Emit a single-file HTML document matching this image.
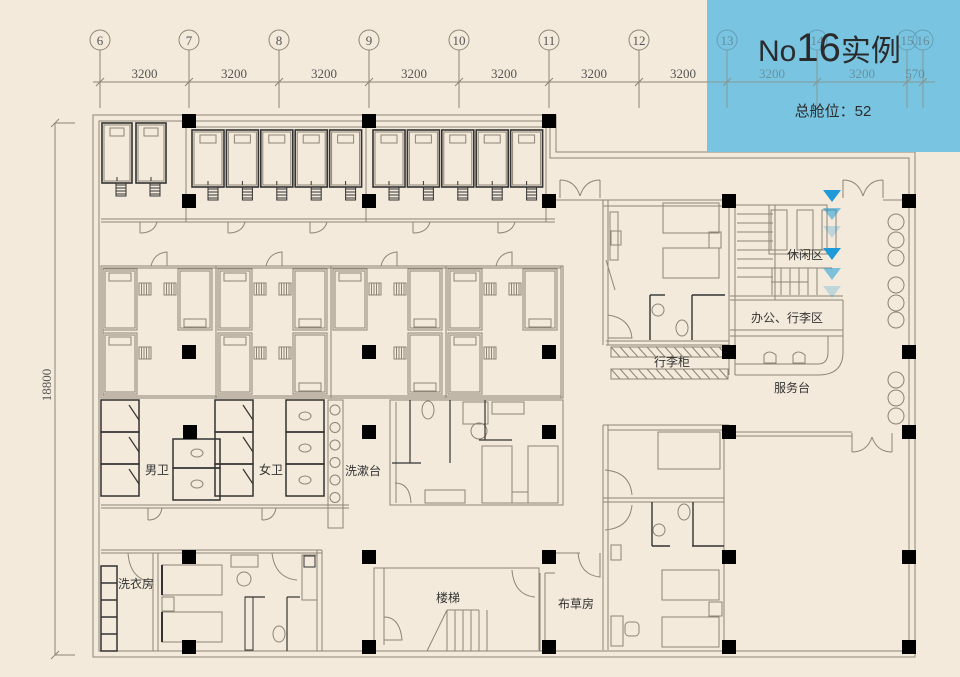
<!DOCTYPE html>
<html><head><meta charset="utf-8"><style>
html,body{margin:0;padding:0;background:#f3eadb;}
svg{display:block;}
.t{font-family:"Liberation Sans","Noto Sans CJK SC",sans-serif;font-size:12px;fill:#333;}
.d{font-family:"Liberation Serif",serif;font-size:13px;fill:#555;}
</style></head><body>
<svg id="s" width="960" height="677" viewBox="0 0 960 677" xmlns="http://www.w3.org/2000/svg">
<rect width="960" height="677" fill="#f3eadb"/>
<g id="g" fill="none" stroke="#8c8474" stroke-width="1"></g>
<rect x="707" y="0" width="253" height="152" fill="#79c4e1"/>
<g id="g2" fill="none" stroke="#5a8fa5" stroke-width="1" opacity="0.7"></g>
<text x="758" y="61" style="font-family:'Liberation Sans','Noto Sans CJK SC',sans-serif;font-size:30px;fill:#2b2b2b">No<tspan style="font-size:40px">16</tspan><tspan style="font-family:'Noto Sans CJK SC',sans-serif;font-size:30px">实例</tspan></text>
<text x="833" y="116" text-anchor="middle" style="font-family:'Liberation Sans','Noto Sans CJK SC',sans-serif;font-size:15px;fill:#2b2b2b">总舱位：52</text>
<text x="157" y="474" text-anchor="middle" class="t">男卫</text>
<text x="271" y="474" text-anchor="middle" class="t">女卫</text>
<text x="363" y="475" text-anchor="middle" class="t">洗漱台</text>
<text x="136" y="588" text-anchor="middle" class="t">洗衣房</text>
<text x="448" y="602" text-anchor="middle" class="t">楼梯</text>
<text x="576" y="608" text-anchor="middle" class="t">布草房</text>
<text x="672" y="366" text-anchor="middle" class="t">行李柜</text>
<text x="792" y="392" text-anchor="middle" class="t">服务台</text>
<text x="787" y="322" text-anchor="middle" class="t">办公、行李区</text>
<text x="805" y="259" text-anchor="middle" class="t">休闲区</text>
<text x="51" y="385" class="d" transform="rotate(-90 51 385)" text-anchor="middle">18800</text>
</svg>
<script>
var NS="http://www.w3.org/2000/svg",g=document.getElementById('g'),s=document.getElementById('s'),g2=document.getElementById('g2');
function el(p,n,a){var e=document.createElementNS(NS,n);for(var k in a)e.setAttribute(k,a[k]);p.appendChild(e);return e;}
function L(x1,y1,x2,y2,c,w,p){el(p||g,'line',{x1:x1,y1:y1,x2:x2,y2:y2,stroke:c||'#8c8474','stroke-width':w||1});}
function R(x,y,w,h,c,sw,f,p){el(p||g,'rect',{x:x,y:y,width:w,height:h,stroke:c||'#8c8474','stroke-width':sw||1,fill:f||'none'});}
function C(x,y){el(s,'rect',{x:x-7,y:y-7,width:14,height:14,fill:'#000'});}
var gx=[100,189,279,369,459,549,639,727,817,907,923],lab=['6','7','8','9','10','11','12','13','14','15','16'];
for(var i=0;i<gx.length;i++){var p=gx[i]>700?g2:g;el(p,'circle',{cx:gx[i],cy:40,r:10});L(gx[i],50,gx[i],108,null,1,p);
 var t=el(s,'text',{x:gx[i],y:45,'text-anchor':'middle','class':'d'});t.textContent=lab[i];if(gx[i]>700)t.setAttribute('opacity','0.5');
 L(gx[i]-4,86,gx[i]+4,78,null,1,p);}
L(93,82,707,82);L(707,82,935,82,null,1,g2);
for(i=0;i<9;i++){var tx=el(s,'text',{x:(gx[i]+gx[i+1])/2,y:78,'text-anchor':'middle','class':'d'});tx.textContent='3200';if(i>=7)tx.setAttribute('opacity','0.45');}
var t5=el(s,'text',{x:915,y:78,'text-anchor':'middle','class':'d',opacity:0.45});t5.textContent='570';
L(55,123,55,655);L(51,127,59,119);L(51,659,59,651);L(55,123,75,123);L(55,655,75,655);
el(g,'path',{d:'M93 115 H556 V152 H915 V657 H93 Z'});
el(g,'path',{d:'M99 121 H550 V158 H909 V651 H99 Z'});
function cap(x,y,w,h){R(x,y,w,h,'#333',1.6);R(x+2,y+2,w-4,h-4);R(x+8,y+5,w-16,8);L(x+w/2,y+h-6,x+w/2,y+h-2,'#333');
 for(var k=0;k<4;k++)L(x+w-16,y+h+2+k*3,x+w-6,y+h+2+k*3,'#333');R(x+w-16,y+h,10,13,'#333');}
cap(102,123,30,60);cap(136,123,30,60);
for(i=0;i<5;i++)cap(192+i*34.4,130,32,57);
for(i=0;i<5;i++)cap(373+i*34.4,130,32,57);
L(185,127,555,127);L(186,121,186,222);L(366,121,366,222);L(546,121,546,222);
L(101,219,555,219);L(101,222,555,222);
for(i=0;i<5;i++){var dx=[140,228,310,413,498][i];L(dx,222,dx,233);el(g,'path',{d:'M'+dx+' 233 Q'+(dx+14)+' 233 '+(dx+17)+' 222'});}
R(101,266,462,132);R(103,268,458,128);
var units=[101,216,331,446],cfg=[[1,1,1,0],[1,1,1,1],[1,0,1,1],[1,1,1,0]];
for(i=0;i<4;i++){var ux=units[i];L(ux+115,266,ux+115,398);
 var ps=[[ux+2,269,0],[ux+2,333,0],[ux+77,269,1],[ux+77,333,1]];
 for(var j=0;j<4;j++)if(cfg[i][j]){var q=ps[j];R(q[0],q[1],34,61);R(q[0]+2,q[1]+2,30,57);R(q[0]+6,q[2]?q[1]+50:q[1]+4,22,8);
  for(var k=0;k<5;k++)L(q[2]?q[0]-14+k*2.5:q[0]+36+k*2.5,q[1]+14,q[2]?q[0]-14+k*2.5:q[0]+36+k*2.5,q[1]+26);R(q[2]?q[0]-14:q[0]+36,q[1]+14,12,12);}
 el(g,'path',{d:'M'+(ux+50)+' 266 Q'+(ux+53)+' 253 '+(ux+66)+' 252 V266'});}
for(i=0;i<3;i++){R(101,400+i*32,38,32,'#333',1.5);R(215,400+i*32,38,32,'#333',1.5);R(286,400+i*32,38,32,'#333',1.5);
 el(g,'ellipse',{cx:305,cy:416+i*32,rx:6,ry:4});L(129,405+i*32,139,420+i*32,'#333',1.2);L(243,405+i*32,253,420+i*32,'#333',1.2);}
R(173,439,47,29,'#333',1.5);R(173,468,47,32,'#333',1.5);el(g,'ellipse',{cx:197,cy:453,rx:6,ry:4});el(g,'ellipse',{cx:197,cy:484,rx:6,ry:4});
R(328,400,15,128);for(i=0;i<6;i++)el(g,'circle',{cx:335,cy:410+i*17.5,r:5});
L(101,505,349,505);L(101,508,349,508);
L(148,508,148,520);el(g,'path',{d:'M148 520 Q160 520 162 508'});L(262,508,262,520);el(g,'path',{d:'M262 520 Q274 520 276 508'});
R(390,400,173,105);L(396,402,396,503);L(392,463,421,463,'#333',1.2);L(450,400,450,463,'#333',1.2);L(410,400,410,463,'#333',1.2);
el(g,'ellipse',{cx:428,cy:410,rx:6,ry:9});R(463,402,25,22);R(492,402,32,12);el(g,'circle',{cx:479,cy:431,r:8});
L(479,440,512,440,'#333',1.2);L(485,400,485,440,'#333',1.2);
R(482,446,30,57);R(528,446,30,57);R(425,490,40,13);R(512,492,16,11);
el(g,'path',{d:'M395 483 Q410 483 411 503'});
L(101,550,322,550);L(101,553,322,553);R(101,566,16,85,'#333',1.5);for(i=1;i<5;i++)L(101,566+i*17,117,566+i*17,'#333',1.5);
L(153,553,153,651);L(158,553,158,651);el(g,'path',{d:'M128 553 Q130 580 153 582'});
R(162,565,60,30);R(162,612,60,30);L(162,565,162,595,'#333',2);L(162,612,162,642,'#333',2);R(162,597,12,14);
R(231,555,27,12);el(g,'circle',{cx:244,cy:579,r:7});R(245,597,8,53,'#333',1);L(245,597,265,597,'#333',1.2);L(287,597,287,651,'#333',1.2);L(287,597,300,597,'#333',1.2);
el(g,'ellipse',{cx:279,cy:634,rx:6,ry:8});R(302,555,15,45);R(304,556,11,11,'#333',1);L(317,550,317,651);L(322,550,322,651);
el(g,'path',{d:'M272 553 Q275 578 297 580'});
R(374,568,165,83);L(384,568,384,645);L(384,568,510,568);
el(g,'path',{d:'M384 617 Q400 617 402 640 H384'});
for(i=0;i<6;i++)L(447+i*8,610,447+i*8,651);L(447,610,479,610);L(427,651,447,610);
el(g,'path',{d:'M512 570 Q514 595 535 597'});L(540,573,540,651);L(545,573,545,651);L(545,573,555,573);
L(603,200,603,345);L(608,200,608,345);L(603,200,729,200);L(603,206,729,206);
R(610,212,8,48);R(611,231,10,14);L(606,260,615,290);
R(663,203,56,30);R(663,248,56,30);R(709,232,12,16);
el(g,'path',{d:'M608 315 Q630 318 632 338 H608'});
L(650,295,650,340,'#333',1.4);L(650,295,665,295,'#333',1.4);L(692,295,692,340,'#333',1.4);L(692,295,725,295,'#333',1.4);
el(g,'ellipse',{cx:682,cy:328,rx:6,ry:8});el(g,'circle',{cx:658,cy:310,r:6});
L(606,341,729,341);L(606,345,729,345);
for(i=0;i<2;i++){R(611,347+i*22,117,10);for(var k=0;k<13;k++)L(611+k*9,347+i*22,620+k*9,357+i*22);}
L(729,200,729,375);L(735,200,735,375);
R(735,205,40,95);for(i=0;i<8;i++)L(737,214+i*9,773,214+i*9);
R(769,205,58,49);R(771,210,16,40);R(797,210,16,40);R(822,210,14,40);
for(i=0;i<6;i++)L(772+i*9,268,772+i*9,295);L(763,268,832,268);L(771,282,808,282);
L(730,296,843,296);L(730,300,843,300);L(730,330,843,330);L(730,336,843,336);
el(g,'path',{d:'M735 364 H818 Q828 364 828 352 V336 M735 375 H818 Q843 375 843 352 V300'});
el(g,'path',{d:'M764 355 q5 -6 12 0 v8 h-12 z M793 355 q5 -6 12 0 v8 h-12 z'});
var cy=[222,240,258,285,303,320,380,398,416];for(i=0;i<9;i++)el(g,'circle',{cx:896,cy:cy[i],r:8});
el(g,'path',{d:'M560 180 V198 M560 180 Q575 180 580 196 M600 180 Q585 180 580 196 M600 180 V198'});
el(g,'path',{d:'M843 180 V198 M843 180 Q858 180 863 196 M883 180 Q868 180 863 196 M883 180 V198'});
el(g,'path',{d:'M852 452 V433 M852 452 Q867 452 872 437 M892 452 Q877 452 872 437 M892 452 V433'});
L(556,200,603,200);L(883,200,909,200);L(735,432,852,432);L(735,436,852,436);
L(603,425,603,650);L(608,425,608,650);L(603,425,729,425);L(608,430,729,430);L(724,430,724,650);
R(658,432,62,37);L(603,498,724,498);L(603,502,724,502);
el(g,'path',{d:'M605 470 Q630 472 632 495 M605 530 Q630 528 632 505'});
L(652,502,652,546,'#333',1.4);L(693,502,693,546,'#333',1.4);L(692,546,724,546,'#333',1.4);L(652,546,670,546,'#333',1.4);
el(g,'ellipse',{cx:684,cy:512,rx:6,ry:8});el(g,'circle',{cx:659,cy:530,r:6});
R(662,570,57,30);R(662,617,57,30);R(709,602,13,14);R(611,545,10,15);R(611,616,12,30);el(g,'rect',{x:625,y:622,width:14,height:14,rx:4,stroke:'#8c8474',fill:'none'});
el(g,'path',{d:'M578 553 Q580 575 600 577 V553'});L(555,553,580,553);
for(i=0;i<7;i++){var bx=[122,230,382,510,600,755,840][i];L(bx,651,bx+40,651);}
var tri=[[190,1],[208,.55],[226,.25],[248,1],[268,.55],[286,.25]];
for(i=0;i<6;i++)el(s,'path',{d:'M823 '+tri[i][0]+' h18 l-9 12 z',fill:'#1e9ad9','fill-opacity':tri[i][1]});
[[189,121],[369,121],[549,121],[189,201],[369,201],[549,201],[189,352],[369,352],[549,352],[190,432],[369,432],[549,432],
 [729,201],[909,201],[729,352],[909,352],[729,432],[909,432],[189,557],[369,557],[549,557],[729,557],[909,557],
 [189,647],[369,647],[549,647],[729,647],[909,647]].forEach(function(c){C(c[0],c[1]);});
</script>
</body></html>
